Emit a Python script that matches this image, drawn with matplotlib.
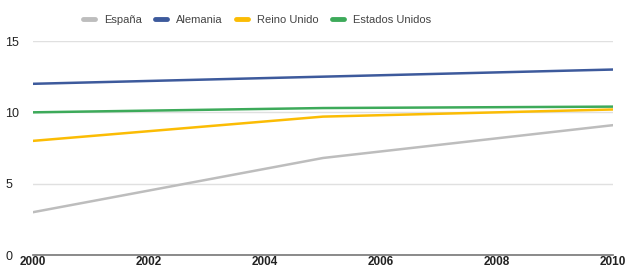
import matplotlib
matplotlib.use("Agg")
import matplotlib.pyplot as plt

years = [2000, 2005, 2010]
espana = [3.0, 6.8, 9.1]
alemania = [12.0, 12.5, 13.0]
reino_unido = [8.0, 9.7, 10.2]
estados_unidos = [10.0, 10.3, 10.4]
series_names = ["España", "Alemania", "Reino Unido", "Estados Unidos"]
x_ticks = [2000, 2002, 2004, 2006, 2008, 2010]
y_ticks = [0, 5, 10, 15]

colors = ["#bdbdbd", "#3d5a9c", "#fbbc04", "#3daa5a"]

plt.rcParams['font.family'] = ['Liberation Sans', 'DejaVu Sans']

fig = plt.figure(figsize=(6.26, 2.69), dpi=100)
ax = fig.add_axes([33/626, 14/269, 580/626, 214/269])

for ys, name, c in zip([espana, alemania, reino_unido, estados_unidos], series_names, colors):
    ax.plot(years, ys, color=c, lw=1.8, label=name, solid_capstyle='round')

ax.set_xlim(2000, 2010)
ax.set_ylim(0, 15)
ax.set_yticks(y_ticks)
ax.set_xticks(x_ticks)
ax.grid(axis='y', color='#e0e0e0', lw=1)
ax.set_axisbelow(True)
for s in ['top', 'right', 'left']:
    ax.spines[s].set_visible(False)
ax.spines['bottom'].set_color('#777777')
ax.spines['bottom'].set_linewidth(1.2)
ax.tick_params(axis='both', length=0, labelsize=9, colors='#222222')
ax.tick_params(axis='x', pad=1, labelsize=8.5)
for lbl in ax.get_xticklabels():
    lbl.set_fontweight('bold')
for lbl in ax.get_yticklabels():
    lbl.set_horizontalalignment('left')
ax.tick_params(axis='y', pad=20)

leg = fig.legend(loc='center', bbox_to_anchor=(257/626, 1 - 20/269), ncol=4, frameon=False,
                 fontsize=8, handlelength=1.1, handletextpad=0.8, columnspacing=1.2)
for h in leg.get_lines():
    h.set_linewidth(3.5)
for t in leg.get_texts():
    t.set_color('#444444')

fig.savefig("out.png", dpi=100)
